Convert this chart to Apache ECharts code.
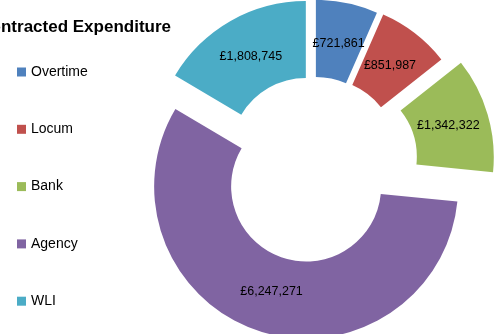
<!DOCTYPE html>
<html>
<head>
<meta charset="utf-8">
<script src="https://cdn.jsdelivr.net/npm/echarts@6/dist/echarts.min.js"></script>
<style>
  html, body { margin: 0; padding: 0; background: #ffffff; }
  #chart { width: 496px; height: 334px; }
</style>
</head>
<body>
<div id="chart"></div>
<script>
// Expenditure by staffing type
const categories = ['Overtime', 'Locum', 'Bank', 'Agency', 'WLI'];
const values = [721861, 851987, 1342322, 6247271, 1808745];
const colors = ['#4F81BD', '#C0504D', '#9BBB59', '#8064A2', '#4BACC6'];
// how far each segment is pulled out from the ring centre (px)
const explode = [14, 15, 30, 22, 14.5];

const FONT = '"Liberation Sans", Arial, sans-serif';
const centre = [313, 165.6];
const inner = 75, outer = 152;
// pull value labels a little towards the hole
const labelPull = 5.5;

const total = values.reduce((a, b) => a + b, 0);
const fmt = v => '£' + v.toLocaleString('en-GB');

// one pie series per segment, sharing the same angles, so each segment can be
// offset along its own bisector
let acc = 0;
const series = categories.map((name, i) => {
  const sweep = values[i] / total * 360;
  const mid = (acc + sweep / 2) * Math.PI / 180; // clockwise from 12 o'clock
  acc += sweep;
  const sx = Math.sin(mid), sy = -Math.cos(mid);
  return {
    type: 'pie',
    silent: true,
    animation: false,
    center: [centre[0] + explode[i] * sx, centre[1] + explode[i] * sy],
    radius: [inner, outer],
    startAngle: 90,
    clockwise: true,
    avoidLabelOverlap: false,
    minAngle: 0,
    labelLine: { show: false },
    labelLayout: () => ({ dx: -labelPull * sx, dy: -labelPull * sy }),
    data: categories.map((n, j) => ({
      name: n,
      value: values[j],
      itemStyle: { color: j === i ? colors[j] : 'rgba(0,0,0,0)', borderWidth: 0 },
      label: {
        show: j === i,
        position: 'inside',
        formatter: p => fmt(p.value),
        color: '#000000',
        fontFamily: FONT,
        fontSize: 12.5
      }
    }))
  };
});

const chart = echarts.init(document.getElementById('chart'), null, { renderer: 'canvas' });
chart.setOption({
  backgroundColor: '#ffffff',
  animation: false,
  legend: {
    orient: 'vertical',
    left: 17,
    top: 65,
    padding: 0,
    itemWidth: 9,
    itemHeight: 9,
    itemGap: 43.3,
    icon: 'rect',
    selectedMode: false,
    textStyle: { fontFamily: FONT, fontSize: 14, color: '#000000', lineHeight: 14 },
    data: categories.map((n, i) => ({ name: n, itemStyle: { color: colors[i] } }))
  },
  graphic: [{
    type: 'text',
    right: 496 - 171,
    top: 18.5,
    style: {
      text: 'Contracted Expenditure',
      fontFamily: FONT,
      fontWeight: 'bold',
      fontSize: 17,
      fill: '#000000'
    }
  }],
  series: series
});
</script>
</body>
</html>
